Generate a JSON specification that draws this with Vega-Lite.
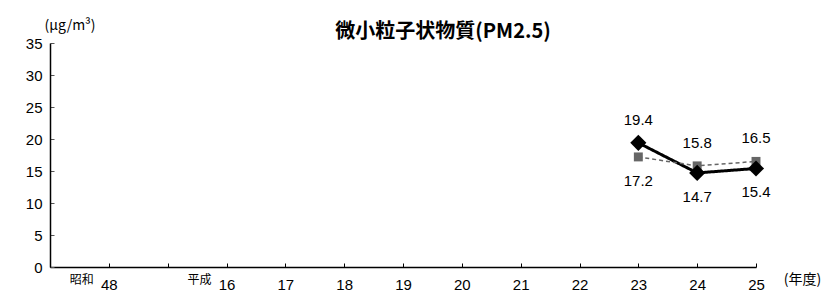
{
  "$schema": "https://vega.github.io/schema/vega-lite/v6.json",
  "width": 706,
  "height": 224,
  "autosize": {"type": "none"},
  "padding": {"left": 50, "top": 43, "right": 73, "bottom": 37},
  "background": "white",
  "config": {
    "view": {"stroke": null},
    "font": "Liberation Sans"
  },
  "title": {
    "text": "微小粒子状物質(PM2.5)",
    "font": "Noto Sans CJK JP",
    "fontWeight": "bold",
    "fontSize": 20,
    "color": "black",
    "anchor": "middle",
    "baseline": "middle",
    "dx": 40,
    "dy": 34,
    "offset": 0
  },
  "datasets": {
    "pm": [
      {"year": "23", "series": "一般局", "value": 19.4},
      {"year": "24", "series": "一般局", "value": 14.7},
      {"year": "25", "series": "一般局", "value": 15.4},
      {"year": "23", "series": "自排局", "value": 17.2},
      {"year": "24", "series": "自排局", "value": 15.8},
      {"year": "25", "series": "自排局", "value": 16.5}
    ],
    "era": [
      {"year": "48", "era": "昭和"},
      {"year": "16", "era": "平成"}
    ]
  },
  "encoding": {
    "x": {
      "field": "year",
      "type": "ordinal",
      "scale": {
        "type": "point",
        "padding": 0,
        "domain": ["_a", "48", "_b", "16", "17", "18", "19", "20", "21", "22", "23", "24", "25"]
      },
      "axis": {
        "title": "(年度)",
        "titleFont": "Noto Sans CJK JP",
        "titleFontSize": 14,
        "titleFontWeight": "normal",
        "titleColor": "black",
        "titleAnchor": "end",
        "titleAlign": "center",
        "titleBaseline": "middle",
        "titleX": 752,
        "titleY": 12,
        "labelAngle": 0,
        "labelExpr": "indexof(datum.value, '_') == 0 ? '' : datum.value",
        "labelFontSize": 15,
        "labelColor": "black",
        "labelPadding": 14,
        "labelOverlap": false,
        "tickSize": -4,
        "tickColor": "black",
        "domainColor": "black",
        "domainWidth": 1.5,
        "grid": false
      }
    },
    "y": {
      "field": "value",
      "type": "quantitative",
      "scale": {"domain": [0, 35], "nice": false},
      "axis": {
        "values": [0, 5, 10, 15, 20, 25, 30, 35],
        "tickCount": 8,
        "title": "(μg/m³)",
        "titleFont": "Noto Sans CJK JP",
        "titleFontSize": 14,
        "titleFontWeight": "normal",
        "titleColor": "black",
        "titleAngle": 0,
        "titleAlign": "left",
        "titleBaseline": "middle",
        "titleX": -6,
        "titleY": -18,
        "labelFontSize": 15,
        "labelColor": "black",
        "labelPadding": 12,
        "labelOverlap": false,
        "labelFlush": false,
        "labelBound": false,
        "tickSize": -4,
        "tickColor": "#555555",
        "domainColor": "black",
        "domainWidth": 1.5,
        "grid": false
      }
    }
  },
  "layer": [
    {
      "data": {"name": "pm"},
      "mark": {"type": "line"},
      "encoding": {
        "color": {
          "field": "series",
          "type": "nominal",
          "scale": {"domain": ["一般局", "自排局"], "range": ["#000000", "#666666"]},
          "legend": null
        },
        "strokeWidth": {
          "field": "series",
          "type": "nominal",
          "scale": {"domain": ["一般局", "自排局"], "range": [3, 1.5]},
          "legend": null
        },
        "strokeDash": {
          "field": "series",
          "type": "nominal",
          "scale": {"domain": ["一般局", "自排局"], "range": [[1, 0], [4, 3]]},
          "legend": null
        }
      }
    },
    {
      "data": {"name": "pm"},
      "transform": [{"filter": "datum.series == '自排局'"}],
      "mark": {"type": "point", "shape": "square", "filled": true, "size": 80, "color": "#666666", "opacity": 1},
      "encoding": {}
    },
    {
      "data": {"name": "pm"},
      "transform": [{"filter": "datum.series == '一般局'"}],
      "mark": {"type": "point", "shape": "diamond", "filled": true, "size": 260, "color": "#000000", "opacity": 1},
      "encoding": {}
    },
    {
      "data": {"name": "pm"},
      "transform": [
        {"joinaggregate": [{"op": "max", "field": "value", "as": "maxv"}], "groupby": ["year"]},
        {"filter": "datum.value == datum.maxv"}
      ],
      "mark": {"type": "text", "fontSize": 15, "dy": -23, "baseline": "middle", "color": "black"},
      "encoding": {
        "text": {"field": "value", "type": "quantitative", "format": ".1f"}
      }
    },
    {
      "data": {"name": "pm"},
      "transform": [
        {"joinaggregate": [{"op": "max", "field": "value", "as": "maxv"}], "groupby": ["year"]},
        {"filter": "datum.value < datum.maxv"}
      ],
      "mark": {"type": "text", "fontSize": 15, "dy": 24, "baseline": "middle", "color": "black"},
      "encoding": {
        "text": {"field": "value", "type": "quantitative", "format": ".1f"}
      }
    },
    {
      "data": {"name": "era"},
      "mark": {"type": "text", "font": "Noto Sans CJK JP", "fontSize": 12, "dx": -27, "dy": 13, "baseline": "middle", "color": "black", "invalid": "show"},
      "encoding": {
        "x": {"field": "year", "type": "ordinal"},
        "y": {"datum": 0, "type": "quantitative"},
        "text": {"field": "era", "type": "nominal"}
      }
    }
  ]
}
